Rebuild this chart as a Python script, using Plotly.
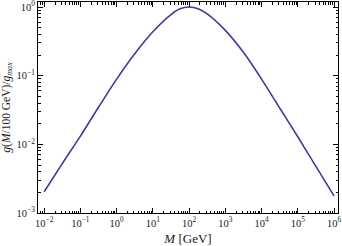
import plotly.graph_objects as go

# Data (M in GeV, g normalized)
log10_M = [-2, -1.5, -1, -0.5, 0, 0.5, 1, 1.5, 1.75, 2, 2.25, 2.5, 3, 3.5, 4, 4.5, 5, 5.5, 6]
log10_g = [-2.69, -2.28, -1.88, -1.46, -1.05, -0.68, -0.36, -0.11, -0.026, 0.0, -0.025,
           -0.10, -0.34, -0.66, -1.05, -1.47, -1.89, -2.32, -2.75]

x_tick_exp = [-2, -1, 0, 1, 2, 3, 4, 5, 6]
y_tick_exp = [-3, -2, -1, 0]

M = [10 ** v for v in log10_M]
g = [10 ** v for v in log10_g]


def pow_label(e):
    s = str(e).replace("-", "\u2212")
    return f"10<sup>{s}</sup>"


font_family = "Liberation Serif, Times New Roman, serif"

fig = go.Figure()
fig.add_trace(go.Scatter(
    x=M, y=g, mode="lines",
    line=dict(color="#3c3c9c", width=1.6, shape="spline", smoothing=0.8),
    hoverinfo="skip", showlegend=False,
))

axis_common = dict(
    type="log",
    automargin=False,
    showgrid=False,
    zeroline=False,
    showline=True,
    linecolor="black",
    linewidth=1,
    mirror="ticks",
    ticks="inside",
    ticklen=5,
    tickwidth=1,
    tickcolor="black",
    ticklabeloverflow="allow",
    tickfont=dict(family=font_family, size=10.5, color="#1a1a1a"),
    minor=dict(ticks="inside", ticklen=2.5, tickwidth=0.8, tickcolor="black",
               showgrid=False, dtick="D1"),
)

fig.update_layout(
    width=342, height=246,
    margin=dict(l=38, r=4, t=2, b=33),
    paper_bgcolor="white",
    plot_bgcolor="white",
    font=dict(family=font_family, color="#1a1a1a"),
    xaxis=dict(
        axis_common,
        range=[-2.17, 6.11],
        tickvals=[10 ** e for e in x_tick_exp],
        ticktext=[pow_label(e) for e in x_tick_exp],
        title=dict(text="<i>M</i> [GeV]", font=dict(family=font_family, size=13, color="#1a1a1a")),
    ),
    yaxis=dict(
        axis_common,
        range=[-3, 0.073],
        tickvals=[10 ** e for e in y_tick_exp],
        ticktext=[pow_label(e) for e in y_tick_exp],
        title=dict(text="<i>g</i>(<i>M</i>/100 GeV)/<i>g</i><sub><i>max</i></sub>",
                   font=dict(family=font_family, size=11.5, color="#1a1a1a")),
    ),
)

fig.write_html(
    "out.html",
    config={"displayModeBar": False},
    post_script="document.body.style.margin='0';document.body.style.overflow='hidden';",
)
